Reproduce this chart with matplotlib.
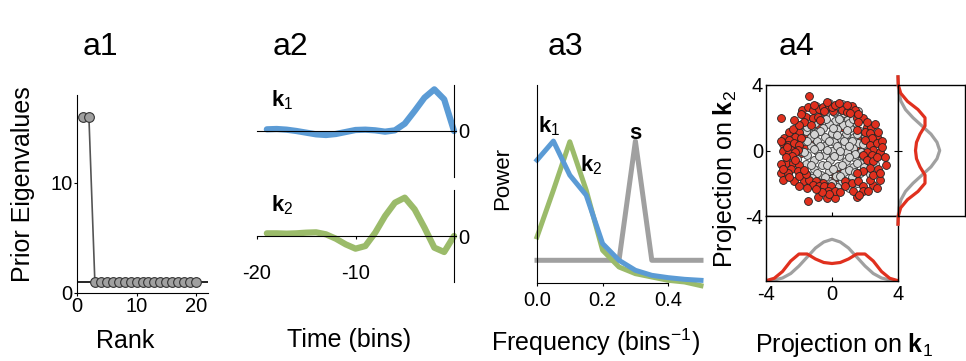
import matplotlib
matplotlib.use('Agg')
import matplotlib.pyplot as plt
import numpy as np

plt.rcParams['font.family'] = ['Liberation Sans', 'DejaVu Sans']
plt.rcParams['mathtext.fontset'] = 'custom'
plt.rcParams['mathtext.rm'] = 'Liberation Sans'
plt.rcParams['mathtext.bf'] = 'Liberation Sans:bold'
plt.rcParams['mathtext.it'] = 'Liberation Sans:italic'
plt.rcParams['axes.unicode_minus'] = False

# ---- data ----
# a1: prior eigenvalues vs rank
rank = [1, 2, 3, 4, 5, 6, 7, 8, 9, 10, 11, 12, 13, 14, 15, 16, 17, 18, 19, 20]
eigenvalues = [16, 16, 1, 1, 1, 1, 1, 1, 1, 1, 1, 1, 1, 1, 1, 1, 1, 1, 1, 1]
eig_floor = 1

# a2: filters in time
time_bins = [-19, -18, -17, -16, -15, -14, -13, -12, -11, -10,
             -9, -8, -7, -6, -5, -4, -3, -2, -1, 0]
k1_filter = [0.05, 0.06, 0.04, 0.0, -0.05, -0.1, -0.12, -0.09, -0.03, 0.03,
             0.04, 0.02, -0.02, 0.02, 0.22, 0.6, 1.0, 1.25, 0.95, 0.0]
k2_filter = [0.08, 0.08, 0.07, 0.08, 0.1, 0.11, 0.05, -0.08, -0.25, -0.38,
             -0.3, 0.1, 0.6, 1.0, 1.15, 0.8, 0.25, -0.35, -0.48, 0.0]

# a3: power spectra
freq = [0.0, 0.05, 0.1, 0.15, 0.2, 0.25, 0.3, 0.35, 0.4, 0.45, 0.5]
k1_power = [3.68, 4.25, 3.23, 2.63, 1.18, 0.68, 0.38, 0.23, 0.16, 0.11, 0.08]
k2_power = [1.38, 2.78, 4.23, 2.78, 0.98, 0.48, 0.28, 0.18, 0.08, 0.03, -0.08]
s_power = [0.68, 0.68, 0.68, 0.68, 0.68, 0.68, 4.25, 0.68, 0.68, 0.68, 0.68]

# a4: projections of stimuli (gray: all, red: spike-triggered)
gray_x = [-0.2, 0.3, -0.6, 0.8, -1.0, 0.1, 1.2, -0.4, 0.55, -1.4, 0.95, -0.8, 0.2, 1.45,
          -1.8, -0.2, 0.65, -1.2, 1.1, -0.55, 0.3, -1.6, 1.7, -0.9, 0.0, 0.85, -2.0, -1.3,
          1.35, -0.4, 0.5, 2.0, -1.7, -0.9, 0.15, 1.0, 1.6, -2.2, -1.3, -0.5, 0.6, 1.3,
          2.1, -1.9, -0.9, 0.0, 0.9, 1.75, 2.5, -1.5, -0.4, 0.45, 1.35, 2.2, -2.1, -1.1,
          -0.1, 0.85, 1.8, 2.6, -1.6, -0.6, 0.35, 1.3, 2.2, -2.0, -1.1, -0.2, 0.75, 1.7,
          -1.5, -0.65, 0.25, 1.2, 2.3, -1.0, -0.2, 0.6, 1.5, -0.6, 0.3, 1.0, -1.3, 2.9,
          2.6, -2.4, -2.3, -1.0, 0.6, 1.6,
          -0.05, 0.7, -0.7, 1.0, -1.05, 0.4, -0.35, 1.3, -1.5, 0.05, 0.9, -0.7, 1.5, -1.1,
          0.3, -0.2, 0.75, -1.5, 1.2, -0.75, 0.3, 1.0, 1.9, -1.1, -0.3, 0.5, 1.4, -1.7,
          -0.8, 0.1, 1.0, 1.9, -1.3, -0.3, 0.6, 1.5, -0.9, 0.05, 1.0, 1.95, -0.4, 0.5,
          1.4, -1.2, 0.0, 0.9]
gray_y = [2.9, 2.7, 2.6, 2.5, 2.3, 2.35, 2.2, 2.15, 2.1, 1.95, 1.9, 1.85, 1.8, 1.65,
          1.6, 1.6, 1.55, 1.5, 1.4, 1.35, 1.3, 1.2, 1.2, 1.1, 1.05, 1.0, 0.95, 0.85,
          0.85, 0.8, 0.75, 0.8, 0.6, 0.55, 0.5, 0.5, 0.45, 0.35, 0.3, 0.25, 0.2, 0.15,
          0.2, 0.0, -0.05, 0.0, -0.1, -0.1, -0.15, -0.3, -0.3, -0.35, -0.4, -0.45, -0.5, -0.6,
          -0.6, -0.65, -0.7, -0.8, -0.85, -0.9, -0.95, -1.0, -1.1, -1.2, -1.15, -1.25, -1.3, -1.35,
          -1.5, -1.5, -1.55, -1.6, -1.45, -1.8, -1.85, -1.85, -2.0, -2.2, -2.25, -2.3, -2.05, -0.3,
          0.5, -0.1, 0.9, 2.7, 2.85, 2.4,
          2.6, 2.3, 2.0, 1.7, 1.7, 1.95, 1.9, 1.9, 1.45, 1.4, 1.25, 1.2, 1.0, 1.0,
          0.95, 0.6, 0.55, 0.55, 0.6, 0.3, 0.3, 0.25, 0.4, 0.1, 0.05, -0.05, -0.2, -0.1,
          -0.35, -0.35, -0.4, -0.35, -0.9, -0.9, -0.9, -0.75, -1.35, -1.15, -1.2, -1.0, -1.6, -1.55,
          -1.3, -1.65, -2.0, -1.9]

red_x = [-1.37, -3.09, -1.82, -1.43, -1.13, -0.77, -0.56, -0.16, 0.04, -0.47, -1.58, -1.17,
         -0.87, -1.68, -0.73, -1.27, -0.87, -1.98, -1.58, -2.22, -1.88, -2.89, -2.59, -2.99,
         -2.69, -2.3, -1.98, -2.49, -2.09, -1.68, -1.37, -1.17, -2.89, -1.78,
         -2.99, -2.59, -2.22, -1.88, -2.79, -3.09, -2.39, -2.49, -1.98, -2.09, -3.09, -2.69,
         -2.99, -2.29, -1.68, -1.37, -1.98, -0.97, -0.56, -0.16, -1.58, -1.17, -0.77, -0.47,
         -0.06, -0.26, -1.43, -0.87, -0.32, 0.2,
         -0.02, 0.18, 0.59, 1.0, 1.2, 0.89, 1.49, 1.9, 1.59, 2.1, 2.35, 2.0, 2.3, 1.49,
         0.59, 2.71, 2.41, 2.0, 1.49, 1.8, 2.31, 2.71, 2.51, 2.1, 1.4, 1.1, 1.7,
         1.29, 1.9, 2.41, 2.1, 2.51, 3.27, 2.81, 2.31, 1.9, 1.49, 1.08, 0.67, 0.26, -0.06,
         0.16, 0.77, 1.2, 1.59, 1.9, 2.51, 2.91, 2.31, 1.49, 1.9, 0.77, 0.16, -0.16,
         -2.6, -2.35, -2.0, -2.7, -3.1, -2.4, -2.8, -3.0, -2.6, -1.7, -2.25,
         -1.9, -1.1, 0.4, 0.9, 1.4, 1.6, 1.1, -0.3, -2.3,
         2.6, 2.8, 3.0, 2.9, 2.7, 3.05, 2.15, 2.5, 2.75, 2.2, 1.3, 1.65, 2.9, 3.2,
         -0.6, -1.0, 0.5, -1.5, -2.0]
red_y = [3.32, 1.96, 2.47, 2.67, 2.47, 2.53, 2.67, 2.73, 2.41, 2.41, 2.06, 2.0,
         2.06, 1.76, 1.84, 1.55, 1.55, 1.15, 1.05, 0.84, 0.74, 0.74, 0.64, 0.38,
         0.34, 0.44, 0.34, 0.03, 0.03, 0.23, 0.54, 0.23, 0.03, -0.07,
         -0.05, -0.15, -0.1, -0.15, -0.76, -0.82, -0.76, -1.11, -0.86, -1.27, -1.37, -1.37,
         -1.78, -1.88, -1.88, -1.78, -1.58, -1.88, -1.98, -1.88, -1.45, -2.09, -2.19, -2.19,
         -2.19, -2.45, -3.1, -2.85, -2.93, -2.89,
         2.67, 2.8, 2.47, 2.53, 2.73, 2.37, 1.96, 1.96, 1.76, 1.45, 1.45, 1.15, 1.05, 1.25,
         1.45, 0.84, 0.74, 0.64, 0.74, 0.34, 0.34, 0.44, 0.03, -0.07, 0.13, 0.03, -0.17,
         0.05, -0.25, -0.25, -0.56, -0.66, -0.9, -1.11, -1.07, -1.27, -1.37, -1.27, -1.17, -1.07, -1.27,
         -1.68, -1.88, -1.98, -1.88, -2.19, -2.09, -1.78, -1.78, -2.85, -2.45, -2.19, -2.49, -2.65,
         1.1, 1.3, 1.55, 0.2, 0.6, -0.35, -0.4, -1.1, -1.6, -1.2, -0.6,
         2.2, 2.75, 2.9, 2.75, 2.5, 2.25, 2.3, 2.95, 1.85,
         1.6, 1.1, 0.6, -0.1, -0.4, 0.2, 1.75, -1.5, -2.3, -2.5, -2.5, -2.7, -1.35, -0.4,
         -2.55, -2.35, -2.55, -2.3, -2.15]

# marginal densities (arbitrary units) on a grid of projection values
proj_grid = [-4.5, -4.0, -3.5, -3.0, -2.5, -2.0, -1.5, -1.0, -0.5, 0.0,
             0.5, 1.0, 1.5, 2.0, 2.5, 3.0, 3.5, 4.0, 4.5]
gray_density = [0.0, 0.2, 1.0, 3.0, 7.5, 15.0, 24.0, 33.0, 39.0, 41.7,
                39.0, 33.0, 24.0, 15.0, 7.5, 3.0, 1.0, 0.2, 0.0]
red_density = [0.0, 0.3, 2.7, 9.5, 20.0, 27.0, 27.0, 22.0, 18.5, 17.5,
               18.5, 22.0, 27.0, 27.0, 20.0, 9.5, 2.7, 0.3, 0.0]

# ---- style ----
BLUE = '#5b9bd5'
GREEN = '#9bbb6a'
GREY_LINE = '#a0a0a0'
RED = '#e0301e'
GREY_DOT = '#d4d4d4'
TICK_FS = 14.5
LABEL_FS = 18

W, H = 966.0, 361.0


def box(left, top, right, bottom):
    return [left / W, 1 - bottom / H, (right - left) / W, (bottom - top) / H]


fig = plt.figure(figsize=(9.66, 3.61), dpi=100)

# panel titles
for x, t in [(100, 'a1'), (290, 'a2'), (565, 'a3'), (797, 'a4')]:
    fig.text(x / W, 1 - 47 / H, t, ha='center', va='center', fontsize=23)

# ---- a1 ----
ax1 = fig.add_axes(box(77, 95, 208, 293))
ax1.axhline(eig_floor, color='k', lw=1.2, zorder=1)
ax1.plot(rank, eigenvalues, '-', color='#555555', lw=1.2, zorder=2)
ax1.plot(rank, eigenvalues, 'o', ms=7, mfc='#a0a0a0', mec='#333333', mew=0.8, zorder=3)
ax1.set_xlim(0, 22)
ax1.set_ylim(0, 18)
ax1.set_xticks([0, 10, 20])
ax1.set_yticks([0, 10])
ax1.spines['top'].set_visible(False)
ax1.spines['right'].set_visible(False)
ax1.tick_params(labelsize=TICK_FS, length=2, pad=1)
fig.text(23 / W, 1 - 184 / H, 'Prior Eigenvalues', rotation=90, ha='center', va='center',
         fontsize=LABEL_FS)
fig.text(125 / W, 1 - 348 / H, 'Rank', ha='center', va='baseline', fontsize=LABEL_FS)

# ---- a2 ----
for i, (vals, col, lab) in enumerate([(k1_filter, BLUE, r'$\mathbf{k}_1$'),
                                       (k2_filter, GREEN, r'$\mathbf{k}_2$')]):
    top = 85 if i == 0 else 190
    ax = fig.add_axes(box(257, top, 456, top + 92))
    ax.plot(time_bins, vals, color=col, lw=4.5, solid_capstyle='round',
            solid_joinstyle='round', clip_on=False)
    ax.set_xlim(-20, 0.2)
    ax.set_ylim(-1.38, 1.38)
    ax.spines['top'].set_visible(False)
    ax.spines['left'].set_visible(False)
    ax.spines['bottom'].set_position(('data', 0))
    ax.spines['right'].set_position(('data', 0))
    ax.yaxis.tick_right()
    ax.set_yticks([0])
    ax.tick_params(axis='y', length=0, pad=3, labelsize=TICK_FS)
    if i == 0:
        ax.set_xticks([])
    else:
        ax.set_xticks([-20, -10])
        ax.tick_params(axis='x', length=2, pad=18, labelsize=TICK_FS)
    ax.text(-18.6, 0.75, lab, fontsize=16, va='baseline')
fig.text(349 / W, 1 - 347 / H, 'Time (bins)', ha='center', va='baseline', fontsize=LABEL_FS)

# ---- a3 ----
ax3 = fig.add_axes(box(537, 85, 701, 283))
ax3.plot(freq, s_power, color=GREY_LINE, lw=3.6, clip_on=False)
ax3.plot(freq, k2_power, color=GREEN, lw=3.6, clip_on=False)
ax3.plot(freq, k1_power, color=BLUE, lw=3.6, clip_on=False)
ax3.set_xlim(0, 0.5)
ax3.set_ylim(0, 5.93)
ax3.spines['top'].set_visible(False)
ax3.spines['right'].set_visible(False)
ax3.spines['bottom'].set_bounds(0, 0.4)
ax3.set_xticks([0.0, 0.2, 0.4])
ax3.set_xticklabels(['0.0', '0.2', '0.4'])
ax3.set_yticks([])
ax3.tick_params(labelsize=TICK_FS, length=2, pad=4)
ax3.text(0.003, 4.5, r'$\mathbf{k}_1$', fontsize=16, va='baseline')
ax3.text(0.3, 4.3, r'$\mathbf{s}$', fontsize=16, va='baseline', ha='center')
ax3.text(0.13, 3.35, r'$\mathbf{k}_2$', fontsize=16, va='baseline')
fig.text(503 / W, 1 - 179 / H, 'Power', rotation=90, ha='center', va='center', fontsize=16)
fig.text(596 / W, 1 - 351 / H, r'Frequency (bins$^{-1}$)', ha='center', va='baseline',
         fontsize=LABEL_FS)

# ---- a4 ----
rx = np.array(red_x)
ry = np.array(red_y)
outer = np.hypot(rx, ry) >= 1.9

axm = fig.add_axes(box(766, 85, 898, 216))
axm.scatter(rx[~outer], ry[~outer], s=32, c=RED, edgecolors='#222222', linewidths=0.6, zorder=2)
axm.scatter(gray_x, gray_y, s=32, c=GREY_DOT, edgecolors='#333333', linewidths=0.6, zorder=3)
axm.scatter(rx[outer], ry[outer], s=32, c=RED, edgecolors='#222222', linewidths=0.6, zorder=4)
axm.set_xlim(-4, 4)
axm.set_ylim(-4, 4)
axm.set_xticks([0])
axm.set_xticklabels([])
axm.set_yticks([-4, 0, 4])
axm.tick_params(axis='both', direction='in', length=3, labelsize=TICK_FS, pad=2,
                right=True)

axb = fig.add_axes(box(766, 216, 898, 281))
axb.plot(proj_grid, gray_density, color=GREY_LINE, lw=2.3)
axb.plot(proj_grid, red_density, color=RED, lw=2.3)
axb.set_xlim(-4, 4)
axb.set_ylim(0, 65)
axb.set_xticks([-4, 0, 4])
axb.set_yticks([])
axb.tick_params(axis='x', direction='in', length=3, labelsize=TICK_FS, pad=3)

axr = fig.add_axes(box(898, 85, 965, 216))
axr.plot(gray_density, proj_grid, color=GREY_LINE, lw=2.3, clip_on=False)
axr.plot(red_density, proj_grid, color=RED, lw=2.3, clip_on=False)
axr.set_ylim(-4, 4)
axr.set_xlim(0, 67)
axr.set_xticks([])
axr.set_yticks([0])
axr.set_yticklabels([])
axr.tick_params(axis='y', direction='in', length=3)

for a in (axm, axb, axr):
    for sp in a.spines.values():
        sp.set_linewidth(1.0)

fig.text(725 / W, 1 - 179 / H, r'Projection on $\mathbf{k}_2$', rotation=90,
         ha='center', va='center', fontsize=LABEL_FS)
fig.text(844 / W, 1 - 352 / H, r'Projection on $\mathbf{k}_1$', ha='center', va='baseline',
         fontsize=LABEL_FS)

fig.savefig('out.png', dpi=100)
